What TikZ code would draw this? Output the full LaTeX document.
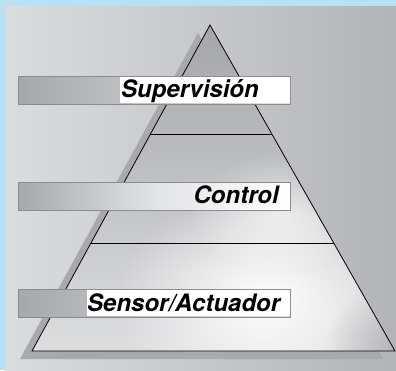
\documentclass[tikz,border=0pt]{standalone}
\usepackage{fontspec}
\newfontfamily\labelfont{TeX Gyre Heros}
\usetikzlibrary{fadings}
\definecolor{skyedge}{HTML}{BDE0F1}
\definecolor{panellight}{HTML}{DBDCDE}
\definecolor{paneldark}{HTML}{B2B4B7}
\definecolor{shadowgray}{HTML}{A7A9AC}
\definecolor{pyrtop}{HTML}{A4A6A9}
\definecolor{pyrbottom}{HTML}{DDDEE0}
\definecolor{bargray}{HTML}{A6A8AB}
\definecolor{barlight}{HTML}{E2E3E5}
\definecolor{barrim}{HTML}{8A8C8F}
\tikzfading[name=softglow, inner color=transparent!0, outer color=transparent!100]
\tikzset{
  levelbar/.style={draw=barrim, line width=0.9pt, minimum height=28pt, inner sep=0pt, anchor=north west},
  levelbox/.style={fill=white, inner sep=0pt, anchor=north west, minimum height=26pt},
  levellabel/.style={inner sep=0pt, text=black, font=\labelfont\bfseries\itshape\fontsize{24}{24}\selectfont},
  divider/.style={draw=black, line width=0.8pt}
}
\begin{document}
\begin{tikzpicture}[x=1pt,y=-1pt]
\useasboundingbox (0,0) rectangle (396,370);
% frame and panel
\fill[skyedge] (0,0) rectangle (396,370);
\shade[left color=panellight, right color=paneldark] (5,6) rectangle (396,370);
% pyramid shadow
\fill[shadowgray] (198,33) -- (20,359) -- (383,359) -- cycle;
% pyramid body
\coordinate (apex) at (210,25);
\coordinate (bl) at (32,351);
\coordinate (br) at (395,351);
\shade[top color=pyrtop, bottom color=pyrbottom] (apex) -- (bl) -- (br) -- cycle;
\begin{scope}
  \clip (apex) -- (bl) -- (br) -- cycle;
  \fill[white, path fading=softglow, fit fading=true] (265,300) ellipse (150 and 110);
  \fill[white, opacity=0.6, path fading=softglow, fit fading=true] (280,215) ellipse (90 and 60);
  \fill[paneldark, path fading=softglow, fit fading=true] (395,351) circle (70);
\end{scope}
\draw[line width=0.8pt] (apex) -- (bl) -- (br) -- cycle;
% level dividers
\coordinate (d1l) at (150.6,134);
\coordinate (d1r) at (272,134);
\coordinate (d2l) at (90.6,243);
\coordinate (d2r) at (333.5,243);
\draw[divider] (d1l) -- (d1r);
\draw[divider] (d2l) -- (d2r);
% level bars
\node[levelbar, minimum width=272pt, left color=bargray, right color=barlight] (barsup) at (18,76) {};
\node[levelbox, minimum width=170pt] (boxsup) at (120,77) {};
\node[levellabel, anchor=base west] (labsup) at (121,97) {Supervisión};
\draw[barrim, line width=0.9pt] (barsup.north west) rectangle (barsup.south east);

\node[levelbar, minimum width=272pt, left color=bargray, right color=white, middle color=barlight] (barctl) at (18,182) {};
\node[levellabel, anchor=base east] (labctl) at (279,203) {Control};

\node[levelbar, minimum width=272pt, left color=bargray, right color=barlight] (barsen) at (18,289) {};
\node[levelbox, minimum width=203pt] (boxsen) at (87,290) {};
\node[levellabel, anchor=base west] (labsen) at (87,311) {Sensor/Actuador};
\draw[barrim, line width=0.9pt] (barsen.north west) rectangle (barsen.south east);
\end{tikzpicture}
\end{document}
